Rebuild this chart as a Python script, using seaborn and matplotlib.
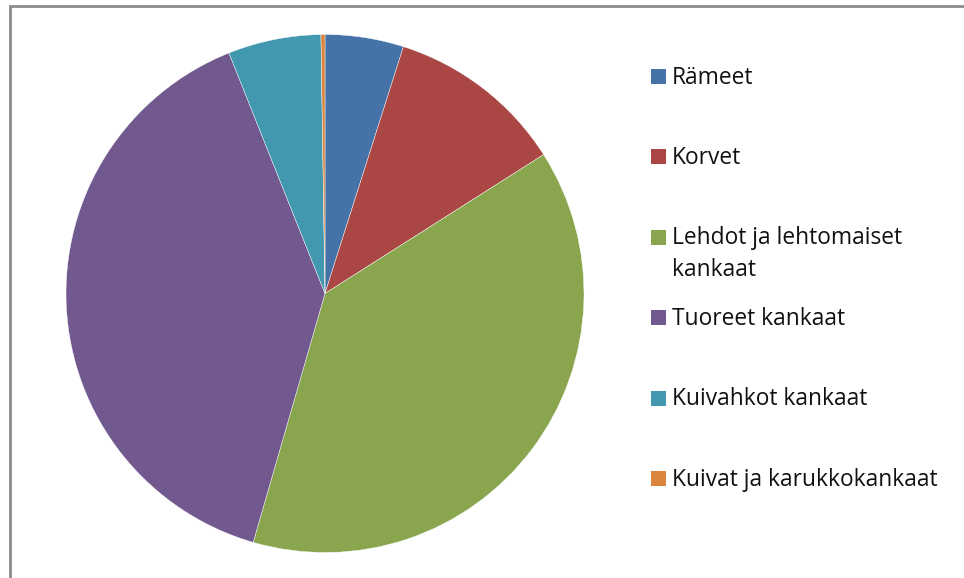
import numpy as np
import pandas as pd
import matplotlib
matplotlib.use("Agg")
import matplotlib.pyplot as plt
from matplotlib.patches import Rectangle
import seaborn as sns

# data (share of area, %)
labels = ["Rämeet", "Korvet", "Lehdot ja lehtomaiset\nkankaat", "Tuoreet kankaat",
          "Kuivahkot kankaat", "Kuivat ja karukkokankaat"]
shares = [4.9, 11.1, 38.5, 39.5, 5.8, 0.25]
colors = ["#4572A7", "#AA4643", "#89A54E", "#71588F", "#4198AF", "#DB843D"]

df = pd.DataFrame({"label": labels, "share": shares})

sns.set_style("white")
plt.rcParams["font.family"] = ["Open Sans", "DejaVu Sans"]

W, H = 964, 578
fig = plt.figure(figsize=(W / 100, H / 100), dpi=100)
fig.patch.set_facecolor("white")

# pie area: centre (325, 293), radius 259 px
cx, cy, r = 325, 293.5, 259
ax = fig.add_axes([(cx - r) / W, (H - cy - r) / H, 2 * r / W, 2 * r / H])
pal = sns.color_palette(colors)
ax.pie(df["share"], colors=pal, startangle=90, counterclock=False,
       wedgeprops=dict(edgecolor="white", linewidth=0.3))
ax.set_xlim(-1, 1)
ax.set_ylim(-1, 1)
ax.set_aspect("equal")
ax.axis("off")

# overlay in pixel coords for frame and legend
ov = fig.add_axes([0, 0, 1, 1], zorder=-1)
ov.set_xlim(0, W)
ov.set_ylim(H, 0)
ov.axis("off")
ov.plot([10, 10, W], [H, 5.5, 5.5], color="#8c8c8c", lw=2, solid_joinstyle="miter")

ov2 = fig.add_axes([0, 0, 1, 1])
ov2.set_xlim(0, W)
ov2.set_ylim(H, 0)
ov2.axis("off")
for i, (lab, col) in enumerate(zip(df["label"], pal)):
    base = 84 + i * 80.4
    ov2.add_patch(Rectangle((651, base - 15), 15, 15, facecolor=col, edgecolor="none"))
    for j, line in enumerate(lab.split("\n")):
        ov2.text(672, base - 0.5 + j * 31.7, line, fontsize=16.4, color="#111111",
                 va="baseline", ha="left")

fig.savefig("out.png", dpi=100, facecolor="white")
